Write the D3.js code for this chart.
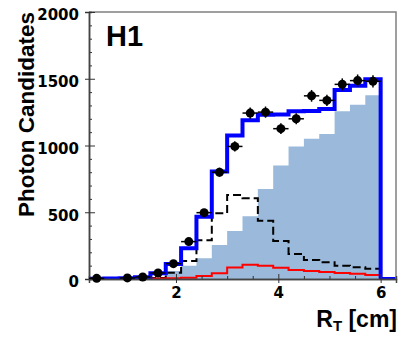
<!DOCTYPE html>
<html>
<head>
<meta charset="utf-8">
<script src="https://cdn.jsdelivr.net/npm/d3@7"></script>
<style>
  html, body { margin: 0; padding: 0; background: #fff; }
  svg { display: block; }
</style>
</head>
<body>
<svg id="chart" width="415" height="340"></svg>
<script>
// Bin layout: 20 bins of width 0.3 cm from 0.3 to 6.3 cm
const binEdges = [0.3, 0.6, 0.9, 1.2, 1.5, 1.8, 2.1, 2.4, 2.7, 3.0, 3.3,
                  3.6, 3.9, 4.2, 4.5, 4.8, 5.1, 5.4, 5.7, 6.0, 6.3];

// Total prediction (blue line)
const totalMC = [2, 3, 5, 14, 44, 112, 230, 466, 805, 1075, 1190,
                 1231, 1233, 1256, 1258, 1274, 1415, 1447, 1497, 0];
// Filled component (light blue)
const signalMC = [0, 0, 0, 0, 10, 60, 100, 155, 255, 360, 470,
                  675, 850, 993, 1051, 1086, 1256, 1306, 1376, 0];
// Dashed component
const bkgDashed = [1, 1, 1, 2, 8, 47, 135, 290, 493, 630, 605,
                   437, 285, 188, 143, 125, 100, 88, 77, 0];
// Red component
const bkgRed = [0, 0, 0, 1, 3, 5, 10, 22, 43, 86, 107,
                100, 85, 68, 60, 52, 45, 40, 30, 0];

// Data points: bin centres, counts and statistical errors
const dataX = [0.45, 1.05, 1.35, 1.65, 1.95, 2.25, 2.55, 2.85, 3.15,
               3.45, 3.75, 4.05, 4.35, 4.65, 4.95, 5.25, 5.55, 5.85];
const dataY = [5, 8, 15, 45, 115, 280, 497, 800, 993,
               1243, 1250, 1126, 1200, 1372, 1338, 1458, 1486, 1481];
const dataErr = [3, 3, 5, 8, 13, 20, 27, 34, 38,
                 42, 42, 40, 41, 44, 43, 45, 46, 46];

const yTicks = [0, 500, 1000, 1500, 2000];
const xTicks = [2, 4, 6];

const svg = d3.select("#chart");
const x = d3.scaleLinear().domain([0.3, 6.3]).range([89, 396]);
const y = d3.scaleLinear().domain([0, 2000]).range([279, 12]);

const binHalf = (binEdges[1] - binEdges[0]) / 2;

svg.append("clipPath").attr("id", "frameClip")
  .append("rect")
  .attr("x", x.range()[0]).attr("y", y.range()[1])
  .attr("width", x.range()[1] - x.range()[0])
  .attr("height", y.range()[0] - y.range()[1]);

// Step points: left edge of each bin with its value, then the closing edge
function stepPoints(vals) {
  const pts = vals.map((v, i) => [binEdges[i], v]);
  pts.push([binEdges[binEdges.length - 1], vals[vals.length - 1]]);
  return pts;
}

const stepLine = d3.line()
  .x(d => x(d[0])).y(d => y(d[1]))
  .curve(d3.curveStepAfter);
const stepArea = d3.area()
  .x(d => x(d[0])).y0(y(0)).y1(d => y(d[1]))
  .curve(d3.curveStepAfter);

const plot = svg.append("g").attr("clip-path", "url(#frameClip)");

plot.append("path")
  .attr("d", stepArea(stepPoints(signalMC)))
  .attr("fill", "#9bb9da");

plot.append("path")
  .attr("d", stepLine(stepPoints(bkgDashed)))
  .attr("fill", "none").attr("stroke", "#000")
  .attr("stroke-width", 2).attr("stroke-dasharray", "8,4");

plot.append("path")
  .attr("d", stepLine(stepPoints(bkgRed)))
  .attr("fill", "none").attr("stroke", "#ff0000")
  .attr("stroke-width", 2);

plot.append("path")
  .attr("d", stepLine(stepPoints(totalMC)))
  .attr("fill", "none").attr("stroke", "#0000ff")
  .attr("stroke-width", 4);

// Frame (top and right sides)
svg.append("path")
  .attr("d", `M${x.range()[0]},${y.range()[1]} H${x.range()[1]} V${y.range()[0]}`)
  .attr("fill", "none").attr("stroke", "#808080").attr("stroke-width", 1.5);

// Axes
const yMinor = d3.range(0, 2001, 100).filter(v => !yTicks.includes(v));
const xMinor = d3.range(0.5, 6.3, 0.5).filter(v => !xTicks.includes(v));

const yAxisMinor = svg.append("g").attr("transform", `translate(${x.range()[0]},0)`)
  .call(d3.axisLeft(y).tickValues(yMinor).tickSize(-3).tickFormat(""));
const yAxis = svg.append("g").attr("transform", `translate(${x.range()[0]},0)`)
  .call(d3.axisLeft(y).tickValues(yTicks).tickSize(4).tickPadding(6).tickFormat(d3.format("d")));
yAxis.selectAll(".tick line").attr("x1", 6);

const xAxisMinor = svg.append("g").attr("transform", `translate(0,${y.range()[0]})`)
  .call(d3.axisBottom(x).tickValues(xMinor).tickSize(-3).tickFormat(""));
const xAxis = svg.append("g").attr("transform", `translate(0,${y.range()[0]})`)
  .call(d3.axisBottom(x).tickValues(xTicks).tickSize(4).tickPadding(4).tickFormat(d3.format("d")));
xAxis.selectAll(".tick line").attr("y1", -5);

[yAxisMinor, yAxis, xAxisMinor, xAxis].forEach(g => {
  g.select(".domain").attr("stroke", "#444").attr("stroke-width", 1.5);
  g.selectAll(".tick line").attr("stroke", "#333").attr("stroke-width", 1);
  g.selectAll(".tick text")
    .attr("fill", "#000")
    .style("font-family", "'DejaVu Sans', sans-serif")
    .style("font-weight", "bold")
    .style("font-size", "15px");
});
yAxis.selectAll(".tick text").attr("dy", "0.52em");

// Data points with error bars
const pts = svg.append("g");
dataX.forEach((cx, i) => {
  const px = x(cx), py = y(dataY[i]);
  pts.append("line")
    .attr("x1", x(cx - binHalf)).attr("x2", x(cx + binHalf))
    .attr("y1", py).attr("y2", py)
    .attr("stroke", "#000").attr("stroke-width", 1.5);
  pts.append("line")
    .attr("x1", px).attr("x2", px)
    .attr("y1", y(dataY[i] - dataErr[i])).attr("y2", y(dataY[i] + dataErr[i]))
    .attr("stroke", "#000").attr("stroke-width", 1.5);
  pts.append("circle")
    .attr("cx", px).attr("cy", py).attr("r", 4.5)
    .attr("fill", "#000");
});

// Titles
svg.append("text")
  .attr("x", 106).attr("y", 45.5)
  .style("font-family", "'Liberation Sans', Arial, sans-serif")
  .style("font-weight", "bold").style("font-size", "29px")
  .text("H1");

svg.append("text")
  .attr("transform", "translate(33.5,12) rotate(-90)")
  .attr("text-anchor", "end")
  .style("font-family", "'Liberation Sans', Arial, sans-serif")
  .style("font-weight", "bold").style("font-size", "22.5px")
  .text("Photon Candidates");

const xt = svg.append("text")
  .attr("x", 397).attr("y", 327)
  .attr("text-anchor", "end")
  .style("font-family", "'Liberation Sans', Arial, sans-serif")
  .style("font-weight", "bold").style("font-size", "23px");
xt.append("tspan").text("R");
xt.append("tspan").attr("dy", 4).style("font-size", "15px").text("T");
xt.append("tspan").attr("dy", -4).text(" [cm]");
</script>
</body>
</html>
